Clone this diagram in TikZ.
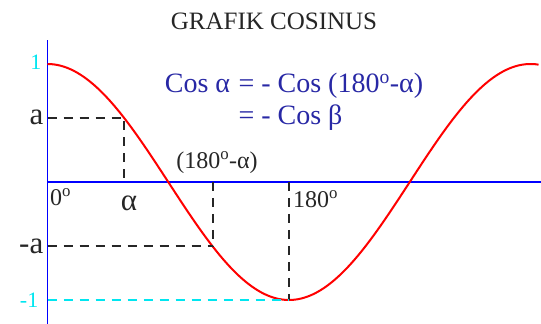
\documentclass[tikz,border=0pt]{standalone}
\usepackage{fontspec}
\setmainfont{Liberation Serif}
\usepackage{tikz}
\usetikzlibrary{positioning}

\definecolor{eqblue}{RGB}{40,40,165}
\definecolor{lblcyan}{RGB}{0,230,240}

\begin{document}
\begin{tikzpicture}
  [
    x = 1pt, y = 1pt,
    node distance = 3pt,
    axis/.style = {draw=blue, line width=1.9pt},
    curve/.style = {draw=red, line width=2pt},
    guide/.style = {draw=black!85, line width=1.8pt, dash pattern=on 9pt off 7pt},
    guide_cyan/.style = {guide, draw=lblcyan},
    lbl/.style = {inner sep=0pt, text=black!85, font=\fontsize{24}{24}\selectfont},
    big/.style = {lbl, font=\fontsize{31}{31}\selectfont},
    val/.style = {lbl, text=lblcyan, font=\fontsize{22}{22}\selectfont},
  ]
  \useasboundingbox (0,0) rectangle (541,324);

  % axes
  \coordinate (O) at (47.5,142);
  \coordinate (y_top) at (47.5,284);
  \coordinate (y_bot) at (47.5,0);
  \coordinate (x_end) at (541,142);
  \draw[axis] (y_bot) -- (y_top);
  \draw[axis] (O) -- (x_end);

  % cosine, 0..366 deg
  \draw[curve] plot[domain=0:366, samples=150] ({47.5+1.3417*\x},{142+118*cos(\x)});

  % points on the curve
  \coordinate (p_alpha) at (124,206.3);
  \coordinate (p_beta) at (213,77.7);
  \coordinate (p_min) at (289,24);
  \coordinate (y_a) at (47.5,206.3);
  \coordinate (y_ma) at (47.5,77.7);
  \coordinate (y_min) at (47.5,24);
  \coordinate (x_alpha) at (124,142);
  \coordinate (x_beta) at (213,142);
  \coordinate (x_180) at (289,142);

  \draw[guide] (y_a) -- (p_alpha) -- (x_alpha);
  \draw[guide] (y_ma) -- (p_beta);
  \draw[guide] (x_beta) -- (p_beta);
  \draw[guide] (x_180) -- (p_min);
  \draw[guide_cyan] (y_min) -- (p_min);

  % labels
  \node[lbl, font=\fontsize{25}{25}\selectfont] (title) at (274,303) {GRAFIK COSINUS};
  \node[inner sep=0pt, text=eqblue, font=\fontsize{28}{32}\selectfont] (formula) at (294,222)
    {\begin{tabular}{@{}r@{}l@{}}Cos α\hspace{0.3em} & = - Cos (180\textsuperscript{o}-α)\\ & = - Cos β\end{tabular}};

  \node[val] (lbl_one) at (36,262) {1};
  \node[big, left = 4pt of y_a] (lbl_a) {a};
  \node[big, left = 4pt of y_ma] (lbl_ma) {-a};
  \node[val, left = 9pt of y_min] (lbl_mone) {-1};
  \node[lbl, anchor=north west] (lbl_zero) at (50,136) {0\textsuperscript{o}};
  \node[big] (lbl_alpha) at (129,121) {α};
  \node[lbl] (lbl_beta) at (217,161) {(180\textsuperscript{o}-α)};
  \node[lbl, anchor=north west] (lbl_180) at (293,134) {180\textsuperscript{o}};
\end{tikzpicture}
\end{document}
